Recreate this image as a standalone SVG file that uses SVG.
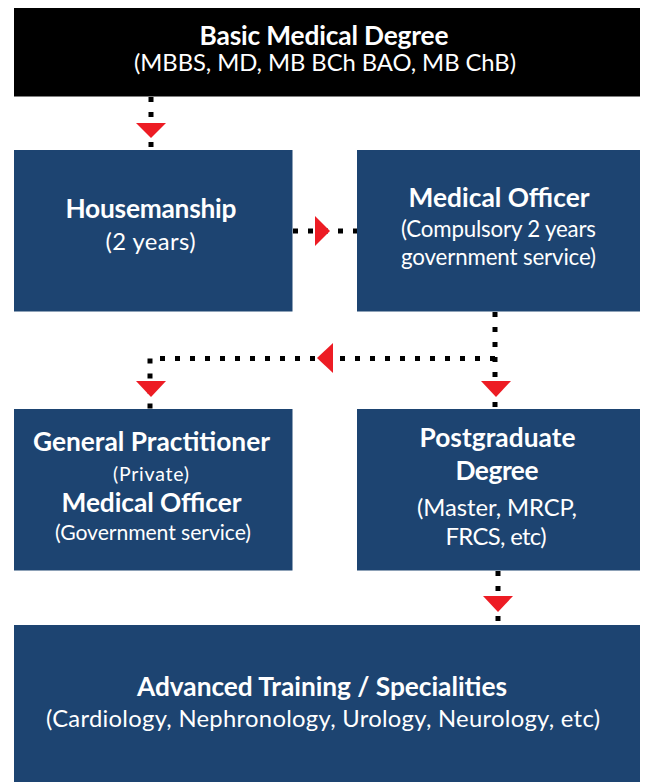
<svg xmlns="http://www.w3.org/2000/svg" width="646" height="782" viewBox="0 0 646 782">
<style>
.box{fill:#1D4471}
.top{fill:#000}
text{font-family:Lato,"Open Sans",sans-serif;fill:#fff;text-anchor:middle}
.b{font-weight:bold;font-size:26.3px}
.r{font-size:23.8px}
.c{font-size:22.3px}
.s{font-size:19.5px}
.m{font-size:21.2px}
.conn{fill:none;stroke:#000;stroke-width:5;stroke-dasharray:5 10}
.arr{fill:#ED1C24}
</style>
<rect width="646" height="782" fill="#fff"/>
<g id="connectors">
<path class="conn" d="M151 97V150"/>
<path class="conn" d="M293 231H357"/>
<path class="conn" d="M495 312V409"/>
<path class="conn" d="M495 358.5H150V409"/>
<path class="conn" d="M498 571V625"/>
<polygon class="arr" points="136,123 166,123 151,138"/>
<polygon class="arr" points="315,216 315,246 330,231"/>
<polygon class="arr" points="481,381 511,381 496,397"/>
<polygon class="arr" points="333,343 333,373 317,358"/>
<polygon class="arr" points="136,381 166,381 151,397"/>
<polygon class="arr" points="483,596 513,596 498,612"/>
</g>
<g id="basic-degree">
<rect class="top" x="14" y="8" width="626" height="88.5"/>
<text class="b" x="324" y="44.5" textLength="249">Basic Medical Degree</text>
<text class="r" x="325" y="71" textLength="382">(MBBS, MD, MB BCh BAO, MB ChB)</text>
</g>
<g id="housemanship">
<rect class="box" x="14" y="150" width="278.5" height="161.5"/>
<text class="b" x="151" y="218" textLength="171">Housemanship</text>
<text class="r" x="150.5" y="250" textLength="90">(2 years)</text>
</g>
<g id="medical-officer">
<rect class="box" x="357" y="150" width="283" height="161.5"/>
<text class="b" x="499" y="206.5" textLength="181">Medical Officer</text>
<text class="c" x="498.5" y="236.5" textLength="195">(Compulsory 2 years</text>
<text class="c" x="498.5" y="264.5" textLength="195">government service)</text>
</g>
<g id="general-practitioner">
<rect class="box" x="14" y="409" width="278.5" height="161.5"/>
<text class="b" x="151.5" y="450.5" textLength="237">General Practitioner</text>
<text class="s" x="151" y="480.5" textLength="76">(Private)</text>
<text class="b" x="151.5" y="511.5" textLength="180">Medical Officer</text>
<text class="m" x="153" y="539.5" textLength="196">(Government service)</text>
</g>
<g id="postgraduate">
<rect class="box" x="357" y="409" width="283" height="161.5"/>
<text class="b" x="497.5" y="446.5" textLength="156">Postgraduate</text>
<text class="b" x="497" y="480" textLength="83">Degree</text>
<text class="r" x="497" y="515.5" textLength="160">(Master, MRCP,</text>
<text class="r" x="496" y="545" textLength="101">FRCS, etc)</text>
</g>
<g id="advanced-training">
<rect class="box" x="14" y="625" width="626" height="157"/>
<text class="b" x="322" y="696" textLength="370">Advanced Training / Specialities</text>
<text class="r" x="323" y="727" textLength="554">(Cardiology, Nephronology, Urology, Neurology, etc)</text>
</g>
</svg>
